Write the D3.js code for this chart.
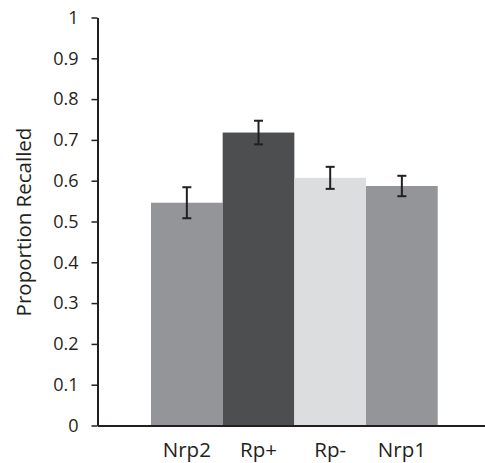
<!DOCTYPE html>
<html>
<head>
<meta charset="utf-8">
<script src="https://cdn.jsdelivr.net/npm/d3@7"></script>
<style>
  body { margin: 0; background: #fff; }
  svg text { font-family: "Open Sans", sans-serif; fill: #231f20; }
</style>
</head>
<body>
<div id="chart"></div>
<script>
// condition names, mean proportion recalled and error (half-length of bars)
var conditions = ["Nrp2", "Rp+", "Rp-", "Nrp1"];
var means = [0.546, 0.718, 0.607, 0.587];
var errors = [0.038, 0.029, 0.027, 0.025];
var barColors = ["#939598", "#4d4e50", "#dcdddf", "#939598"];
var yTicks = [0, 0.1, 0.2, 0.3, 0.4, 0.5, 0.6, 0.7, 0.8, 0.9, 1];

var width = 485, height = 463;

var svg = d3.select("#chart")
	.append("svg")
	.attr("width", width)
	.attr("height", height);

var y = d3.scaleLinear().domain([0, 1]).range([425.5, 17.5]);
var x = d3.scaleBand().domain(conditions).range([151, 437.7]).padding(0);

// bars
svg.selectAll("rect.bar")
	.data(conditions)
	.enter()
	.append("rect")
	.attr("class", "bar")
	.attr("x", function(d) { return x(d); })
	.attr("width", x.bandwidth())
	.attr("y", function(d, i) { return y(means[i]); })
	.attr("height", function(d, i) { return y(0) - y(means[i]); })
	.attr("fill", function(d, i) { return barColors[i]; });

// error bars
var eb = svg.selectAll("g.err")
	.data(conditions)
	.enter()
	.append("g")
	.attr("class", "err")
	.attr("stroke", "#231f20")
	.attr("stroke-width", 2);

eb.append("line")
	.attr("x1", function(d) { return x(d) + x.bandwidth() / 2; })
	.attr("x2", function(d) { return x(d) + x.bandwidth() / 2; })
	.attr("y1", function(d, i) { return y(means[i] + errors[i]); })
	.attr("y2", function(d, i) { return y(means[i] - errors[i]); });

eb.selectAll("line.cap")
	.data(function(d, i) {
		return [{c: d, v: means[i] + errors[i]}, {c: d, v: means[i] - errors[i]}];
	})
	.enter()
	.append("line")
	.attr("class", "cap")
	.attr("x1", function(d) { return x(d.c) + x.bandwidth() / 2 - 4.5; })
	.attr("x2", function(d) { return x(d.c) + x.bandwidth() / 2 + 4.5; })
	.attr("y1", function(d) { return y(d.v); })
	.attr("y2", function(d) { return y(d.v); });

// y axis
var yAxis = d3.axisLeft(y)
	.tickValues(yTicks)
	.tickFormat(function(d) { return d3.format("")(+d.toFixed(1)); })
	.tickSize(6)
	.tickPadding(13)
	.tickSizeOuter(0);

var ga = svg.append("g")
	.attr("transform", "translate(97.5,0)")
	.call(yAxis);
ga.select(".domain").attr("stroke", "#231f20").attr("stroke-width", 2);
ga.selectAll(".tick line").attr("stroke", "#231f20").attr("stroke-width", 1.5);
ga.selectAll(".tick text")
	.attr("font-size", "18px")
	.attr("font-family", "Open Sans, sans-serif")
	.attr("fill", "#231f20");

// x axis line (no ticks)
var xAxisScale = d3.scaleLinear().domain([0, 1]).range([97.5, 485]);
var gx = svg.append("g")
	.attr("transform", "translate(0," + y(0) + ")")
	.call(d3.axisBottom(xAxisScale).tickValues([]).tickSizeOuter(0));
gx.select(".domain").attr("stroke", "#231f20").attr("stroke-width", 2);

// category labels
svg.selectAll("text.cat")
	.data(conditions)
	.enter()
	.append("text")
	.attr("class", "cat")
	.attr("x", function(d) { return x(d) + x.bandwidth() / 2; })
	.attr("y", 457)
	.attr("text-anchor", "middle")
	.attr("font-size", "20.5px")
	.text(function(d) { return d; });

// y title
svg.append("text")
	.attr("transform", "translate(31,222) rotate(-90)")
	.attr("text-anchor", "middle")
	.attr("font-size", "20.5px")
	.text("Proportion Recalled");
</script>
</body>
</html>
